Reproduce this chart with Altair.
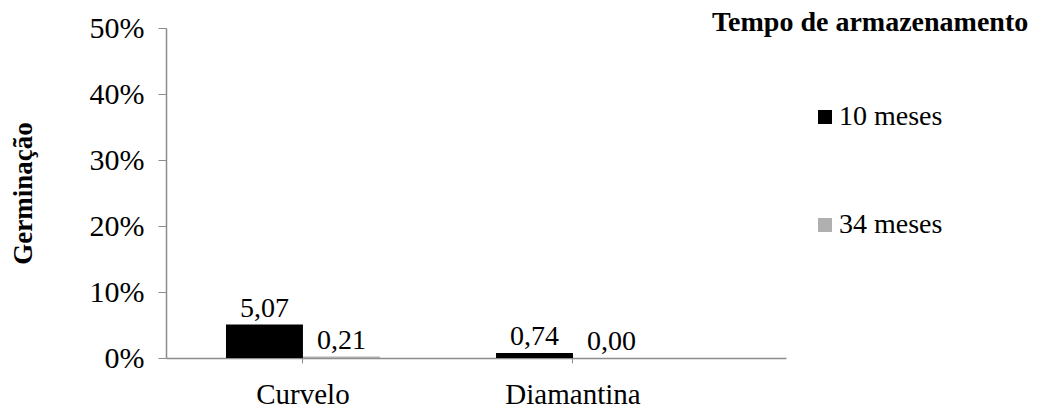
import altair as alt
import pandas as pd

# Germination (%) by seed origin and storage time
locais = ["Curvelo", "Diamantina"]
tempos = ["10 meses", "34 meses"]
germ_10 = [5.07, 0.74]
germ_34 = [0.21, 0.00]

rows = []
for i, loc in enumerate(locais):
    rows.append({"local": loc, "tempo": tempos[0], "germ": germ_10[i]})
    rows.append({"local": loc, "tempo": tempos[1], "germ": germ_34[i]})
df = pd.DataFrame(rows)

serif = "Liberation Serif"
gray_axis = "#8c8c8c"

base = alt.Chart(df).encode(
    x=alt.X(
        "local:N",
        sort=locais,
        scale=alt.Scale(paddingInner=0.43, paddingOuter=0.363, align=0.306),
        axis=alt.Axis(
            title=None, labelAngle=0, labelFont=serif, labelFontSize=29,
            labelColor="black", labelPadding=17, tickSize=5, tickColor=gray_axis,
            domainColor=gray_axis, domainWidth=1.5,
        ),
    ),
    xOffset=alt.XOffset("tempo:N", sort=tempos),
)

bars = base.mark_bar().encode(
    y=alt.Y(
        "germ:Q",
        scale=alt.Scale(domain=[0, 50]),
        axis=alt.Axis(
            title="Germinação", titleFont=serif, titleFontSize=27,
            titleFontWeight="bold", titleColor="black", titlePadding=52,
            values=[0, 10, 20, 30, 40, 50], labelExpr="datum.value + '%'",
            labelFont=serif, labelFontSize=30, labelColor="black", labelPadding=14,
            tickSize=8, tickColor=gray_axis, domainColor=gray_axis, domainWidth=1.5,
            grid=False,
        ),
    ),
    color=alt.Color(
        "tempo:N",
        sort=tempos,
        scale=alt.Scale(domain=tempos, range=["#000000", "#b0b0b0"]),
        legend=alt.Legend(
            title="Tempo de armazenamento", orient="none", legendX=546, legendY=-19,
            titleFont=serif, titleFontSize=28, titleFontWeight="bold", titleColor="black",
            titlePadding=66, titleBaseline="top", titleLimit=600,
            labelFont=serif, labelFontSize=28, labelColor="black", labelOffset=0,
            symbolType="square", symbolSize=196, symbolStrokeWidth=0, symbolOpacity=1,
            symbolOffset=99, rowPadding=80,
        ),
    ),
)

labels = base.transform_calculate(
    rotulo="replace(format(datum.germ, '.2f'), '.', ',')"
).mark_text(
    font=serif, fontSize=28, color="black", baseline="bottom", dy=-2
).encode(
    y=alt.Y("germ:Q"),
    text="rotulo:N",
)

chart = (
    alt.layer(bars, labels)
    .properties(
        width=620,
        height=330,
        autosize=alt.AutoSizeParams(type="none"),
        padding={"left": 166, "top": 28, "right": 259, "bottom": 52},
        background="white",
    )
    .configure_view(stroke=None)
)

chart.save("out.html", embed_options={"renderer": "svg", "actions": False})
